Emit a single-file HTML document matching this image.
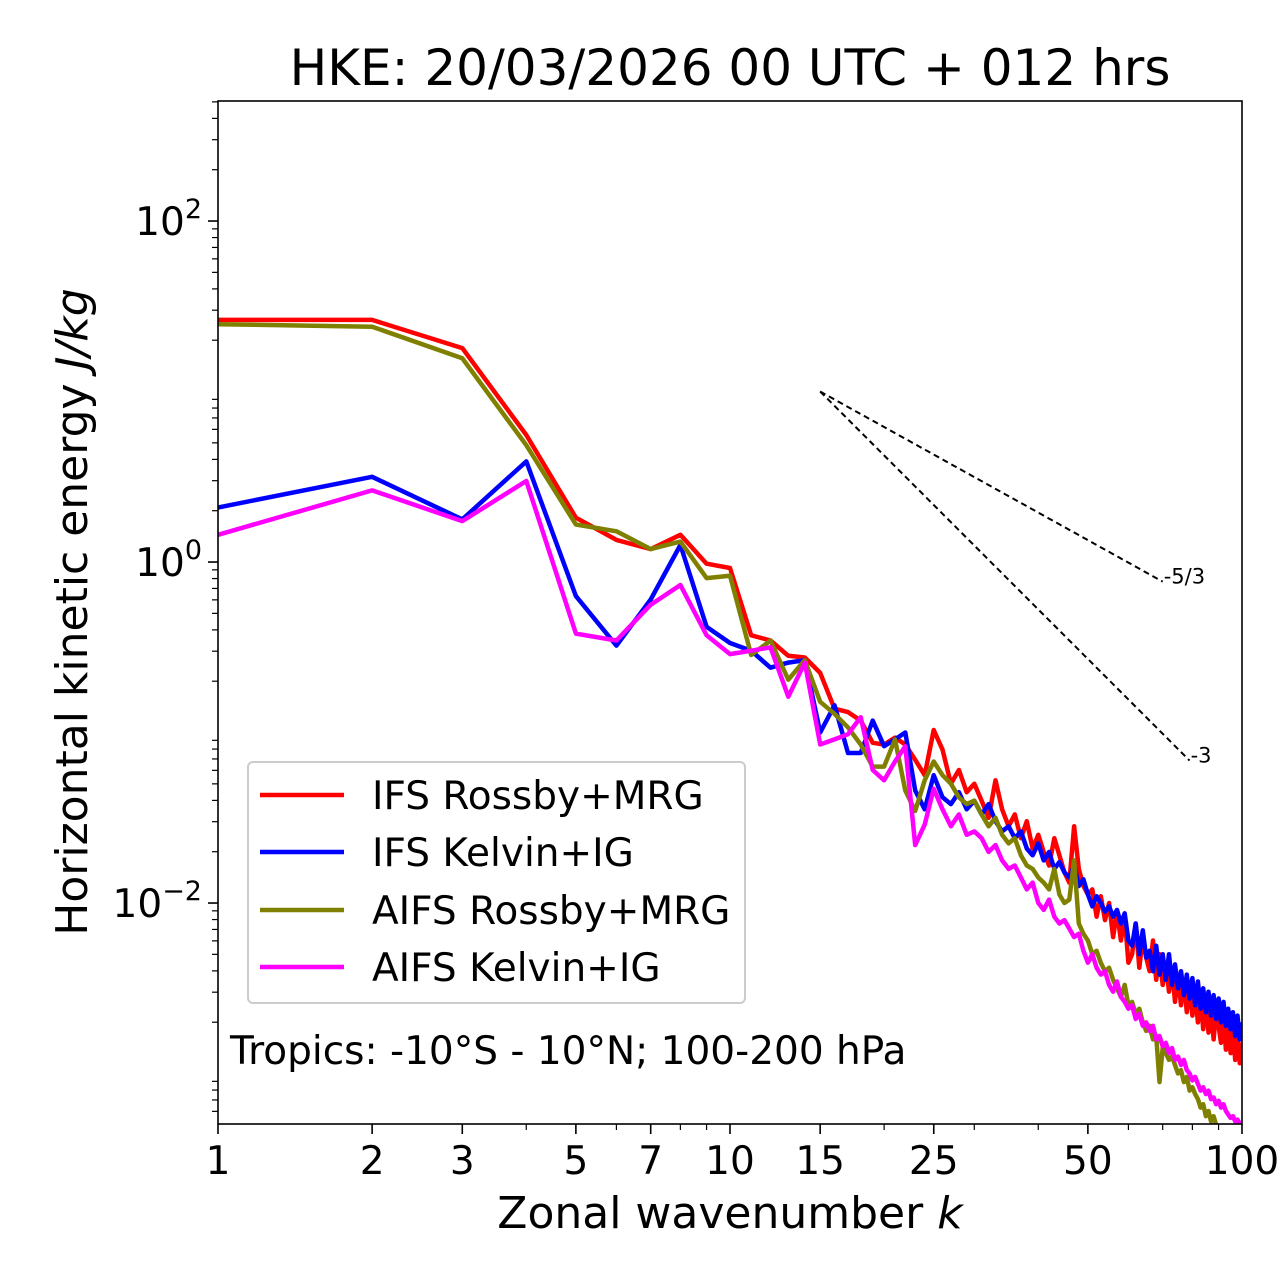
<!DOCTYPE html>
<html><head><meta charset="utf-8"><style>
html,body{margin:0;padding:0;background:#fff;}
svg{display:block;font-family:"DejaVu Sans","Liberation Sans",sans-serif;}
</style></head><body>
<svg id="chart" width="1280" height="1288" viewBox="0 0 1280 1288" xmlns="http://www.w3.org/2000/svg">
<rect width="1280" height="1288" fill="#fff"/>
<text x="730" y="85" font-size="50" text-anchor="middle">HKE: 20/03/2026 00 UTC + 012 hrs</text>
<defs><clipPath id="plotclip"><rect x="218" y="101" width="1024" height="1023"/></clipPath></defs>
<g id="ticks"></g>
<g id="series" clip-path="url(#plotclip)"></g>
<g id="refs"></g>
<rect x="218" y="101" width="1024" height="1023" fill="none" stroke="#000" stroke-width="1.6"/>
<text x="730" y="1228" font-size="44" text-anchor="middle">Zonal wavenumber <tspan font-style="italic">k</tspan></text>
<text transform="translate(87,612) rotate(-90)" font-size="44" text-anchor="middle">Horizontal kinetic energy <tspan font-style="italic">J/kg</tspan></text>
<g>
<rect x="248" y="762" width="497" height="241" rx="5" fill="#fff" fill-opacity="0.8" stroke="#ccc" stroke-width="2"/>
<line x1="260" y1="795" x2="344" y2="795" stroke="#ff0000" stroke-width="4.5"/>
<text x="372" y="809" font-size="39">IFS Rossby+MRG</text>
<line x1="260" y1="852" x2="344" y2="852" stroke="#0000ff" stroke-width="4.5"/>
<text x="372" y="866" font-size="39">IFS Kelvin+IG</text>
<line x1="260" y1="910" x2="344" y2="910" stroke="#808000" stroke-width="4.5"/>
<text x="372" y="924" font-size="39">AIFS Rossby+MRG</text>
<line x1="260" y1="967" x2="344" y2="967" stroke="#ff00ff" stroke-width="4.5"/>
<text x="372" y="981" font-size="39">AIFS Kelvin+IG</text>
</g>
<text x="230" y="1064" font-size="39">Tropics: -10°S - 10°N; 100-200 hPa</text>
</svg>
<script>
// log10 of energy (J/kg) for k = 1..100
const ifsRossbyLog = [1.42,1.42,1.255,0.745,0.26,0.13,0.076,0.16,-0.01,-0.035,-0.43,-0.46,-0.55,-0.56,-0.65,-0.86,-0.88,-0.93,-1.06,-1.07,-1.03,-1.07,-1.16,-1.25,-0.985,
-1.10,-1.30,-1.22,-1.35,-1.30,-1.40,-1.50,-1.28,-1.45,-1.55,-1.48,-1.62,-1.52,-1.68,-1.60,-1.70,-1.78,-1.62,-1.72,-1.82,-1.88,-1.55,-1.80,-1.90,-1.95,
-1.92,-2.08,-1.96,-2.10,-2.00,-2.20,-2.05,-2.22,-2.08,-2.35,-2.30,-2.12,-2.38,-2.20,-2.32,-2.40,-2.22,-2.45,-2.30,-2.48,-2.35,-2.52,-2.38,-2.58,-2.42,
-2.60,-2.45,-2.64,-2.48,-2.66,-2.52,-2.70,-2.55,-2.74,-2.58,-2.76,-2.60,-2.80,-2.64,-2.72,-2.82,-2.66,-2.86,-2.70,-2.88,-2.74,-2.92,-2.76,-2.94,-2.82];
const ifsKelvinLog = [0.32,0.50,0.25,0.59,-0.2,-0.49,-0.22,0.10,-0.38,-0.475,-0.52,-0.62,-0.59,-0.575,-1.0,-0.84,-1.12,-1.12,-0.93,-1.08,-1.04,-1.0,-1.34,-1.45,-1.25,
-1.38,-1.42,-1.35,-1.45,-1.40,-1.48,-1.42,-1.52,-1.58,-1.55,-1.62,-1.58,-1.68,-1.72,-1.65,-1.75,-1.70,-1.80,-1.76,-1.82,-1.85,-1.78,-1.90,-1.86,-1.95,
-2.02,-1.96,-2.00,-2.05,-2.02,-2.08,-2.04,-2.12,-2.06,-2.22,-2.25,-2.12,-2.30,-2.16,-2.32,-2.28,-2.40,-2.25,-2.42,-2.30,-2.45,-2.30,-2.48,-2.36,-2.50,
-2.40,-2.54,-2.42,-2.56,-2.44,-2.60,-2.46,-2.62,-2.50,-2.64,-2.52,-2.66,-2.54,-2.68,-2.56,-2.70,-2.58,-2.72,-2.62,-2.74,-2.64,-2.78,-2.66,-2.80,-2.70];
const aifsRossbyLog = [1.395,1.38,1.195,0.685,0.22,0.18,0.076,0.12,-0.094,-0.08,-0.545,-0.46,-0.69,-0.575,-0.82,-0.89,-0.97,-1.07,-1.2,-1.2,-1.04,-1.34,-1.46,-1.28,-1.17,
-1.25,-1.30,-1.38,-1.42,-1.40,-1.48,-1.55,-1.50,-1.60,-1.65,-1.62,-1.72,-1.78,-1.80,-1.85,-1.88,-1.92,-1.80,-1.95,-2.00,-1.98,-1.75,-2.12,-2.18,-2.22,
-2.30,-2.28,-2.35,-2.40,-2.38,-2.45,-2.50,-2.55,-2.48,-2.60,-2.58,-2.65,-2.62,-2.70,-2.75,-2.72,-2.80,-2.78,-3.05,-2.85,-2.88,-2.92,-2.90,-2.95,-3.00,
-2.98,-3.05,-3.02,-3.10,-3.08,-3.12,-3.15,-3.20,-3.18,-3.25,-3.22,-3.28,-3.25,-3.30,-3.35,-3.38,-3.32,-3.42,-3.40,-3.45,-3.48,-3.50,-3.52,-3.55,-3.58];
const aifsKelvinLog = [0.16,0.42,0.24,0.475,-0.42,-0.46,-0.25,-0.135,-0.43,-0.54,-0.52,-0.5,-0.79,-0.59,-1.07,-1.04,-1.01,-0.91,-1.22,-1.28,-1.17,-1.08,-1.66,-1.54,-1.33,
-1.45,-1.55,-1.48,-1.60,-1.58,-1.62,-1.70,-1.66,-1.75,-1.80,-1.78,-1.85,-1.92,-1.88,-2.00,-2.04,-1.98,-2.08,-2.12,-2.10,-2.15,-2.20,-2.18,-2.28,-2.35,
-2.30,-2.38,-2.42,-2.40,-2.48,-2.52,-2.46,-2.55,-2.58,-2.62,-2.60,-2.68,-2.65,-2.72,-2.70,-2.75,-2.72,-2.80,-2.78,-2.84,-2.82,-2.88,-2.85,-2.92,-2.90,
-2.95,-2.92,-2.98,-3.00,-3.04,-3.02,-3.06,-3.10,-3.08,-3.12,-3.10,-3.15,-3.14,-3.18,-3.16,-3.20,-3.18,-3.22,-3.24,-3.26,-3.25,-3.28,-3.27,-3.30,-3.28];
const seriesColors = ['#ff0000','#0000ff','#808000','#ff00ff'];
const seriesNames = ['ifs-rossby-mrg','ifs-kelvin-ig','aifs-rossby-mrg','aifs-kelvin-ig'];
const xTickLabels = [1,2,3,5,7,10,15,25,50,100];
const xMinorTicks = [4,6,8,9,20,30,40,60,70,80,90];
const yTickExps = [-2,0,2];
const refStartK = 15, refStartE = 10;
const refSlopes = [-5/3, -3];
const refEndK = [70, 79];
const refLabels = ['-5/3','-3'];

const NS='http://www.w3.org/2000/svg';
const X0=218, X1=1242, Y0=101, Y1=1124;
const xMinL=0, xMaxL=2, yMinL=-3.296, yMaxL=2.704;
function xs(k){return X0+(Math.log10(k)-xMinL)/(xMaxL-xMinL)*(X1-X0);}
function ysL(l){return Y1-(l-yMinL)/(yMaxL-yMinL)*(Y1-Y0);}
function mk(t,a){const e=document.createElementNS(NS,t);for(const k in a)e.setAttribute(k,a[k]);return e;}
const tg=document.getElementById('ticks');
xTickLabels.forEach(k=>{
  const x=xs(k);
  const l=mk('line',{x1:x,y1:Y1,x2:x,y2:Y1+10,stroke:'#000','stroke-width':1.6});
  
  
  tg.appendChild(l);
  const t=mk('text',{x:x,y:Y1+50,'font-size':39,'text-anchor':'middle'});
  
  
  t.textContent=k;tg.appendChild(t);
});
xMinorTicks.forEach(k=>{
  const x=xs(k);
  const l=mk('line',{x1:x,y1:Y1,x2:x,y2:Y1+6,stroke:'#000','stroke-width':1.2});
  
  
  tg.appendChild(l);
});
yTickExps.forEach(p=>{
  const y=ysL(p);
  const l=mk('line',{x1:X0-10,y1:y,x2:X0,y2:y,stroke:'#000','stroke-width':1.6});
  
  
  tg.appendChild(l);
  const t=mk('text',{x:X0-16,y:y+14,'font-size':39,'text-anchor':'end'});
  
  
  t.innerHTML='10<tspan dy="-17" font-size="27">'+(p<0?'\u2212'+(-p):p)+'</tspan>';
  tg.appendChild(t);
});
for(let p=-4;p<=3;p++){for(let m=2;m<=9;m++){
  const l10=p+Math.log10(m); if(l10<yMinL||l10>yMaxL)continue;
  const y=ysL(l10);
  const l=mk('line',{x1:X0-6,y1:y,x2:X0,y2:y,stroke:'#000','stroke-width':1.2});
  
  
  tg.appendChild(l);
}}
const sg=document.getElementById('series');
[ifsRossbyLog,ifsKelvinLog,aifsRossbyLog,aifsKelvinLog].forEach((arr,i)=>{
  const pts=arr.map((v,j)=>xs(j+1).toFixed(1)+','+ysL(v).toFixed(1)).join(' ');
  const pl=mk('polyline',{points:pts,fill:'none',stroke:seriesColors[i],'stroke-width':4.5,'stroke-linejoin':'round'});
  
  
  sg.appendChild(pl);
});
const rg=document.getElementById('refs');
refSlopes.forEach((s,i)=>{
  const l0=Math.log10(refStartE), k1=refEndK[i];
  const l1=l0+s*(Math.log10(k1)-Math.log10(refStartK));
  const ln=mk('line',{x1:xs(refStartK),y1:ysL(l0),x2:xs(k1),y2:ysL(l1),stroke:'#000','stroke-width':2,'stroke-dasharray':'6,4'});
  
  
  rg.appendChild(ln);
  const t=mk('text',{x:xs(k1)+1,y:ysL(l1)+2,'font-size':21});
  
  
  t.textContent=refLabels[i];rg.appendChild(t);
});
</script>
</body></html>
